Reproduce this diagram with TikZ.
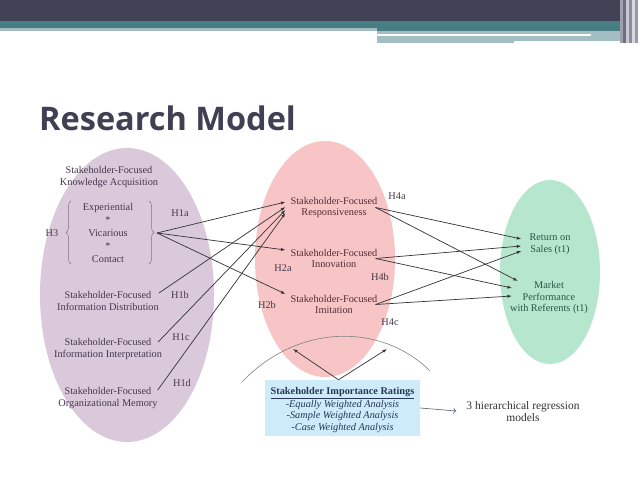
\documentclass[tikz,border=0pt]{standalone}
\usepackage{fontspec}
\setmainfont{Liberation Serif}
\newfontfamily\titlefont{Open Sans}
\usetikzlibrary{arrows.meta,decorations.pathreplacing,shapes.geometric}
\definecolor{headdark}{HTML}{424257}
\definecolor{headteal}{HTML}{467E83}
\definecolor{headlight}{HTML}{A3BEC3}
\definecolor{purfill}{HTML}{D9C9DA}
\definecolor{pinkfill}{HTML}{F7C5C6}
\definecolor{greenfill}{HTML}{B6E6CE}
\definecolor{boxfill}{HTML}{CDEBF8}
\definecolor{purtext}{HTML}{45384F}
\definecolor{pinktext}{HTML}{552C34}
\definecolor{greentext}{HTML}{2A5545}
\definecolor{boxtext}{HTML}{263656}
\definecolor{titlecol}{HTML}{404055}
\definecolor{linecol}{HTML}{333338}
\definecolor{labcol}{HTML}{463A4A}
\begin{document}
\begin{tikzpicture}[x=1pt,y=-1pt,
  lbl/.style={font=\fontsize{10.3}{11.5}\selectfont, align=center, inner sep=1pt},
  pur/.style={lbl, text=purtext},
  pnk/.style={lbl, text=pinktext},
  grn/.style={lbl, text=greentext},
  hyp/.style={lbl, text=labcol},
  arr/.style={-{Latex[length=4.5pt,width=3.2pt]}, draw=linecol, line width=0.7pt},
  bluearr/.style={-{To[length=3pt,width=6pt]}, draw=boxtext!80, line width=0.6pt},
  bracestyle/.style={draw=purtext!70, line width=0.5pt, decorate, decoration={brace, amplitude=5pt}}
]
\useasboundingbox (0,0) rectangle (638,479);
\fill[white] (0,0) rectangle (638,479);
% header
\fill[headdark] (0,0) rectangle (638,21);
\fill[headteal] (0,21) rectangle (638,28);
\fill[headlight] (0,28) rectangle (377,31);
\fill[headteal] (377,28) rectangle (638,31);
\fill[headlight] (377,31) rectangle (620,34);
\fill[headlight] (591,34) rectangle (620,40);
\fill[headlight] (377,36) rectangle (514,43);
\fill[headlight] (514,36) rectangle (620,41);
\foreach \xx/\cc in {620/A09FB0,623/6E6D80,626/C8C8D2,629/8C8B9C,632/D8D8E0,635/9A9AAA}
  {\definecolor{tmpc}{HTML}{\cc}\fill[tmpc] (\xx,0) rectangle (\xx+3,43);}
% title
\node[anchor=base west, font=\titlefont\fontsize{32.5}{32.5}\selectfont\bfseries, text=titlecol, inner sep=0] (title) at (39,130) {Research Model};
% ellipses
\node[ellipse, fill=purfill, minimum width=174pt, minimum height=294pt, inner sep=0] (pe) at (127,295) {};
\node[ellipse, fill=pinkfill, minimum width=140pt, minimum height=236pt, inner sep=0] (ke) at (325,259) {};
\node[ellipse, fill=greenfill, minimum width=100pt, minimum height=184pt, inner sep=0] (ge) at (550,272) {};
% arc
\draw[gray, line width=0.6pt] (242,382) .. controls (298,323) and (382,323) .. (430,371);
% purple texts
\node[pur] (ka) at (109,177) {Stakeholder-Focused\\Knowledge Acquisition};
\node[pur, font=\fontsize{10.3}{13}\selectfont] (kind) at (108,233) {Experiential\\*\\Vicarious\\*\\Contact};
\draw[bracestyle] (71,264) -- (71,201);
\draw[bracestyle] (149,201) -- (149,264);
\coordinate (bt) at (157,233);
\node[hyp] (h3) at (52,233) {H3};
\node[pur] (dist) at (108,301) {Stakeholder-Focused\\Information Distribution};
\node[pur] (interp) at (108,349) {Stakeholder-Focused\\Information Interpretation};
\node[pur] (mem) at (108,398) {Stakeholder-Focused\\Organizational Memory};
% pink texts
\node[pnk] (resp) at (334,207.5) {Stakeholder-Focused\\Responsiveness};
\node[pnk] (innov) at (334,258.5) {Stakeholder-Focused\\Innovation};
\node[pnk] (imit) at (334,304.5) {Stakeholder-Focused\\Imitation};
% green texts
\node[grn] (ros) at (550,244) {Return on\\Sales (t1)};
\node[grn] (mp) at (549,298) {Market\\Performance\\with Referents (t1)};
% hypothesis labels
\node[hyp] (h1a) at (180,213) {H1a};
\node[hyp] (h1b) at (180,295) {H1b};
\node[hyp] (h1c) at (181,337) {H1c};
\node[hyp] (h1d) at (182,383) {H1d};
\node[hyp] (h2a) at (283,268) {H2a};
\node[hyp] (h2b) at (267,305) {H2b};
\node[hyp] (h4a) at (397,196) {H4a};
\node[hyp] (h4b) at (380,277) {H4b};
\node[hyp] (h4c) at (390,322) {H4c};
% left arrows
\draw[arr] (bt) -- ([xshift=-4pt,yshift=5.5pt]resp.west);
\draw[arr] (bt) -- ([xshift=-4pt,yshift=8.5pt]innov.west);
\draw[arr] (bt) -- ([xshift=-4pt,yshift=10.5pt]imit.west);
\draw[arr] ([xshift=-1pt,yshift=8pt]dist.east) -- ([xshift=-4pt,yshift=0.5pt]resp.west);
\draw[arr] ([xshift=-5pt,yshift=7pt]interp.east) -- ([xshift=-4pt,yshift=-2.5pt]resp.west);
\draw[arr] ([xshift=-1pt,yshift=8pt]mem.east) -- ([xshift=-4pt,yshift=-5.5pt]resp.west);
% right arrows
\coordinate (rs) at ([xshift=-3pt]resp.east);
\coordinate (is) at ([xshift=-3pt]innov.east);
\coordinate (ms) at ([xshift=-3pt]imit.east);
\draw[arr] (rs) -- ([xshift=-7pt,yshift=5pt]ros.west);
\draw[arr] (rs) -- ([xshift=9pt,yshift=17pt]mp.west);
\draw[arr] (is) -- ([xshift=-7pt,yshift=-2pt]ros.west);
\draw[arr] (is) -- ([xshift=3pt,yshift=10pt]mp.west);
\draw[arr] (ms) -- ([xshift=-7pt,yshift=-7pt]ros.west);
\draw[arr] (ms) -- ([xshift=3pt,yshift=2pt]mp.west);
% importance box
\node[fill=boxfill, minimum width=155pt, minimum height=56pt, inner sep=0] (sir) at (342.5,408) {};
\node[inner sep=0, align=center, text=boxtext, font=\fontsize{10.3}{11.6}\selectfont] (sirtext) at (342.5,410)
  {\underline{\textbf{Stakeholder Importance Ratings}}\\[1.2pt]\textit{-Equally Weighted Analysis}\\\textit{-Sample Weighted Analysis}\\\textit{-Case Weighted Analysis}};
\coordinate (up1) at (293,349);
\coordinate (up2) at (387,349);
\draw[arr] ([xshift=-4pt]sir.north) -- (up1);
\draw[arr] ([xshift=-4pt]sir.north) -- (up2);
\node[lbl, text=linecol, font=\fontsize{11.5}{12}\selectfont] (hrm) at (523,412) {3 hierarchical regression\\models};
\draw[bluearr] (sir.east) -- ([xshift=-9pt,yshift=1pt]hrm.west);
\end{tikzpicture}
\end{document}
